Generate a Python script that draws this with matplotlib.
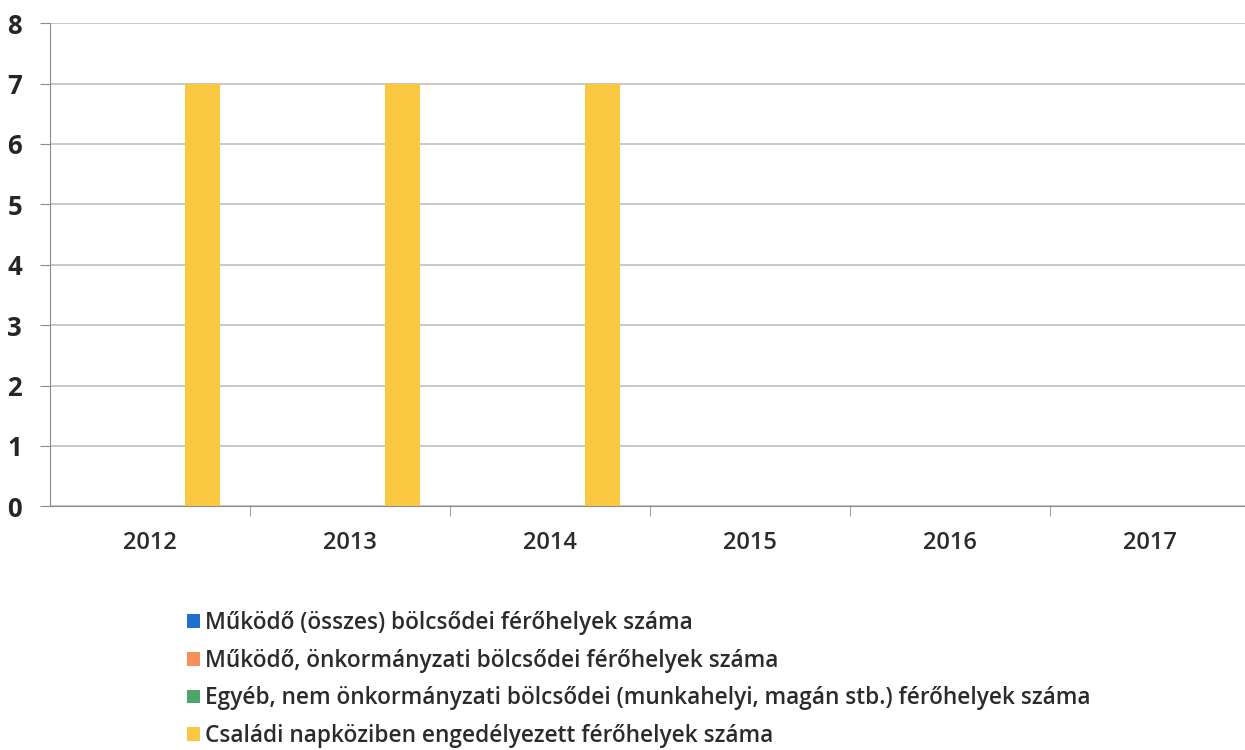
import numpy as np
import matplotlib.pyplot as plt
from matplotlib.patches import Patch

# Chart data
years = ["2012", "2013", "2014", "2015", "2016", "2017"]
osszes = [0, 0, 0, 0, 0, 0]
onkormanyzati = [0, 0, 0, 0, 0, 0]
egyeb = [0, 0, 0, 0, 0, 0]
csaladi = [7, 7, 7, 0, 0, 0]

series_names = [
    "Működő (összes) bölcsődei férőhelyek száma",
    "Működő, önkormányzati bölcsődei férőhelyek száma",
    "Egyéb, nem önkormányzati bölcsődei (munkahelyi, magán stb.) férőhelyek száma",
    "Családi napköziben engedélyezett férőhelyek száma",
]
colors = ["#1F6FCC", "#F4915A", "#4CA56A", "#FAC840"]

plt.rcParams['font.family'] = ['Open Sans', 'DejaVu Sans']

fig = plt.figure(figsize=(12.45, 7.5), dpi=100)
ax = fig.add_axes([0.040, 0.325, 0.964, 0.644])

x = np.arange(len(years))
width = 0.175
all_series = [osszes, onkormanyzati, egyeb, csaladi]
for i, (vals, col) in enumerate(zip(all_series, colors)):
    ax.bar(x + (i - 1.5) * width, vals, width=width, color=col, zorder=3)

ax.set_xlim(-0.5, len(years) - 0.5)
ax.set_ylim(0, 8)
ax.set_yticks(range(0, 9))
ax.yaxis.grid(True, color="#BFBFBF", linewidth=1.2, zorder=0)
ax.set_axisbelow(True)

for side in ["top", "right"]:
    ax.spines[side].set_visible(False)
ax.spines["left"].set_color("#8C8C8C")
ax.spines["bottom"].set_color("#8C8C8C")

ax.set_xticks(x)
ax.set_xticklabels(years, fontsize=17, color="#2B2B2B", fontweight="semibold")
ax.tick_params(axis="x", length=0, pad=18)
ax.set_xticks(np.arange(0.5, len(years) - 0.5, 1), minor=True)
ax.tick_params(axis="x", which="minor", length=7, color="#8C8C8C")
ax.tick_params(axis="y", labelsize=18.5, length=7, color="#8C8C8C", pad=13, labelcolor="#262626")
for lbl in ax.get_yticklabels():
    lbl.set_fontweight("bold")

handles = [Patch(facecolor=c, edgecolor="none") for c in colors]
fig.legend(handles, series_names, loc="upper left", bbox_to_anchor=(0.143, 0.197),
           frameon=False, prop={"size": 16.3, "weight": "semibold"},
           handlelength=0.55, handleheight=0.55,
           handletextpad=0.25, labelspacing=0.6, borderaxespad=0,
           labelcolor="#2B2B2B")

fig.savefig("out.png", dpi=100)
